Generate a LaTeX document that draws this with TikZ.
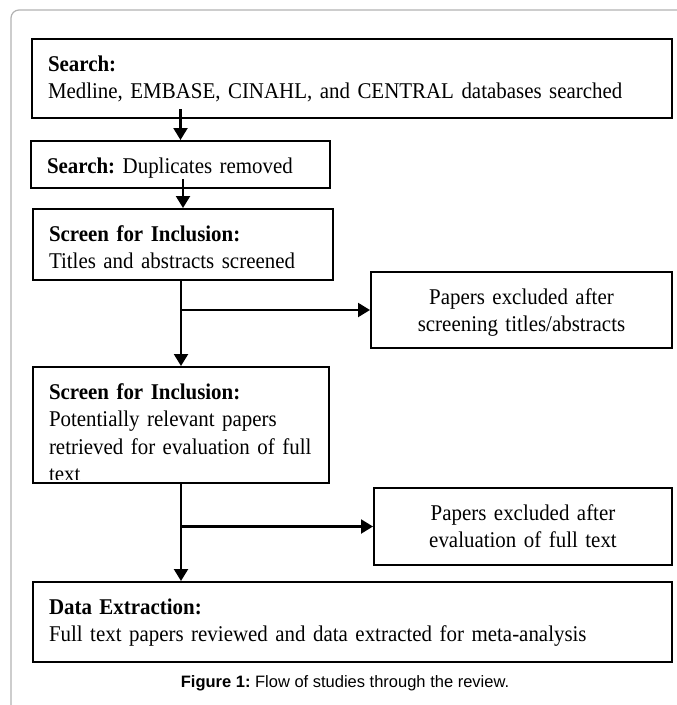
\documentclass[tikz,border=0pt]{standalone}
\usepackage{fontspec}
\setmainfont{Liberation Serif}[FakeStretch=0.93]
\newfontfamily\capfont{Liberation Sans}
\usetikzlibrary{arrows.meta}
\frenchspacing

\begin{document}
\begin{tikzpicture}[
			x=1pt, y=-1pt,
			box/.style={draw, line width=2, inner xsep=16, inner ysep=0, anchor=north west,
				align=left, font=\fontsize{22.5}{27.5}\selectfont, text height=32},
			sidebox/.style={box, align=center},
			flow/.style={line width=2.2, -{Triangle[width=14pt,length=12pt]}}]

		\useasboundingbox (0,0) rectangle (677,705);
		\clip (0,0) rectangle (677,705);
		\draw[black!30, line width=1.2, rounded corners=8] (11,720) -- (11,10) -- (700,10);

		\node[box, text width=608, text depth=47](search) at (31,38) {\textbf{Search:}\\Medline, EMBASE, CINAHL, and CENTRAL databases searched};
		\node[box, text width=267, text depth=15](dedup) at (30,140) {\textbf{Search:} Duplicates removed};
		\node[box, text width=268, text depth=39](titles) at (32,208) {\textbf{Screen for Inclusion:}\\Titles and abstracts screened};
		\node[sidebox, text width=269, text depth=44](exclone) at (370,271) {Papers excluded after\\screening titles/abstracts};
		\node[box, minimum width=296, minimum height=116](fulltext) at (32,366) {};
		\begin{scope}
			\clip (fulltext.north west) rectangle ([yshift=5pt]fulltext.south east);
			\node[box, draw=none, text width=290, text depth=85](fulltextlbl) at (fulltext.north west) {\textbf{Screen for Inclusion:}\\Potentially relevant papers\\retrieved for evaluation of full\\text};
		\end{scope}
		\node[sidebox, text width=266, text depth=45](excltwo) at (373,487) {Papers excluded after\\evaluation of full text};
		\node[box, text width=607, text depth=48](extract) at (32,581) {\textbf{Data Extraction:}\\Full text papers reviewed and data extracted for meta-analysis};
		\node[font=\capfont\fontsize{16.5}{20}\selectfont, anchor=base](caption) at (345,687) {\textbf{Figure 1:} Flow of studies through the review.};

		\draw[flow] (dedup.north |- search.south) ++(0,-10) -- (dedup.north);
		\draw[flow] (titles.north |- dedup.south) ++(0,-10) -- (titles.north);
		\draw[flow] (fulltext.north |- titles.south) -- (fulltext.north);
		\coordinate (forkone) at (fulltext.north |- exclone.west);
		\draw[flow] (forkone) -- (exclone.west);
		\draw[flow] (fulltext.south) -- (fulltext.south |- extract.north);
		\coordinate (forktwo) at (fulltext.south |- excltwo.west);
		\draw[flow] (forktwo) -- (excltwo.west);
	\end{tikzpicture}
\end{document}
